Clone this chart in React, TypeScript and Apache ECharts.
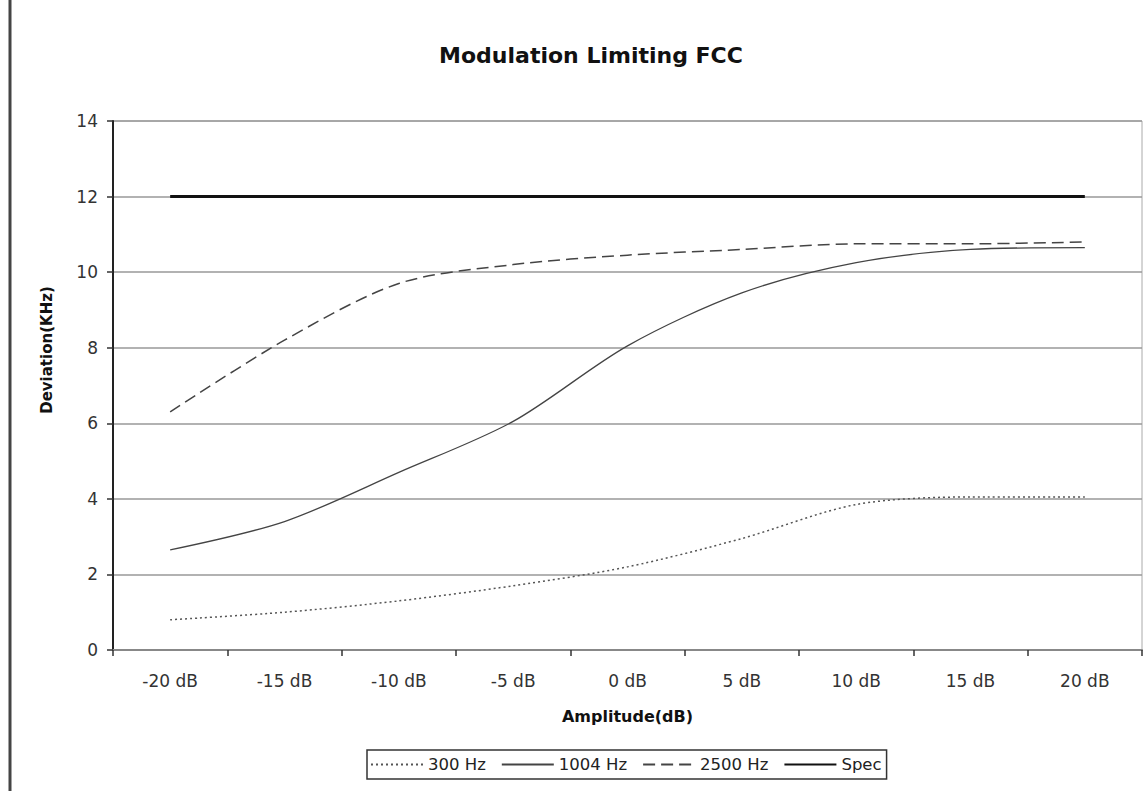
import React, { useEffect, useRef } from "react";
import * as echarts from "echarts";

const categories = ["-20 dB", "-15 dB", "-10 dB", "-5 dB", "0 dB", "5 dB", "10 dB", "15 dB", "20 dB"];
const hz300 = [0.8, 1.0, 1.3, 1.7, 2.2, 2.95, 3.85, 4.05, 4.05];
const hz1004 = [2.65, 3.4, 4.7, 6.05, 8.05, 9.45, 10.25, 10.6, 10.65];
const hz2500 = [6.3, 8.2, 9.7, 10.2, 10.45, 10.6, 10.75, 10.75, 10.8];
const spec = [12, 12, 12, 12, 12, 12, 12, 12, 12];

const FONT = "'DejaVu Sans', Verdana, sans-serif";

export default function App() {
  const ref = useRef<HTMLDivElement>(null);
  useEffect(() => {
    document.body.style.margin = "0";
    const chart = echarts.init(ref.current!, null, { renderer: "svg" });
    chart.setOption({
      animation: false,
      backgroundColor: "#ffffff",
      textStyle: { fontFamily: FONT },
      title: {
        text: "Modulation Limiting FCC",
        left: 586,
        textAlign: "center",
        top: 39,
        textStyle: { fontFamily: FONT, fontSize: 22, fontWeight: "bold", color: "#111" },
      },
      grid: { left: 113, right: 6, top: 121, bottom: 141, show: true, borderColor: "#aaa", borderWidth: 1 },
      legend: {
        left: 367,
        top: 750,
        padding: [6, 5, 6, 3],
        borderColor: "#333",
        borderWidth: 1.5,
        itemWidth: 52,
        itemHeight: 10,
        itemGap: 15,
        itemStyle: { opacity: 0 },
        textStyle: { fontFamily: FONT, fontSize: 16.5, color: "#222" },
        data: ["300 Hz", "1004 Hz", "2500 Hz", "Spec"],
      },
      graphic: [
        {
          type: "line",
          shape: { x1: 10, y1: 0, x2: 10, y2: 791 },
          style: { stroke: "#444", lineWidth: 3 },
        },
        {
          type: "text",
          x: 47,
          y: 350,
          rotation: Math.PI / 2,
          style: {
            text: "Deviation(KHz)",
            fontFamily: FONT,
            fontSize: 15,
            fontWeight: "bold",
            fill: "#111",
            align: "center",
            verticalAlign: "middle",
          },
        },
      ],
      xAxis: {
        type: "category",
        data: categories,
        boundaryGap: true,
        name: "Amplitude(dB)",
        nameLocation: "middle",
        nameGap: 58,
        nameTextStyle: { fontFamily: FONT, fontSize: 16, fontWeight: "bold", color: "#111" },
        axisLine: { lineStyle: { color: "#888", width: 2 } },
        axisTick: { show: true, inside: false, length: 6, lineStyle: { color: "#333", width: 1.5 } },
        axisLabel: { margin: 22, fontFamily: FONT, fontSize: 17, color: "#333" },
        splitLine: { show: false },
      },
      yAxis: {
        type: "value",
        min: 0,
        max: 14,
        interval: 2,
        axisLine: { show: true, lineStyle: { color: "#222", width: 2 } },
        axisTick: { show: true, length: 6, lineStyle: { color: "#333", width: 1.5 } },
        axisLabel: { margin: 15, fontFamily: FONT, fontSize: 17, color: "#333" },
        splitLine: { lineStyle: { color: "#999", width: 1.5 } },
      },
      series: [
        {
          name: "300 Hz",
          type: "line",
          data: hz300,
          symbol: "none",
          smooth: 0.3,
          lineStyle: { color: "#555", width: 1.5, type: [2, 3] },
          itemStyle: { color: "#555" },
        },
        {
          name: "1004 Hz",
          type: "line",
          data: hz1004,
          symbol: "none",
          smooth: 0.3,
          lineStyle: { color: "#444", width: 1.3, type: "solid" },
          itemStyle: { color: "#444" },
        },
        {
          name: "2500 Hz",
          type: "line",
          data: hz2500,
          symbol: "none",
          smooth: 0.3,
          lineStyle: { color: "#444", width: 1.5, type: [12, 6] },
          itemStyle: { color: "#444" },
        },
        {
          name: "Spec",
          type: "line",
          data: spec,
          symbol: "none",
          lineStyle: { color: "#111", width: 3, type: "solid" },
          itemStyle: { color: "#111" },
        },
      ],
    });
    return () => chart.dispose();
  }, []);
  return <div ref={ref} style={{ position: "absolute", left: 0, top: 0, width: 1148, height: 791 }} />;
}
